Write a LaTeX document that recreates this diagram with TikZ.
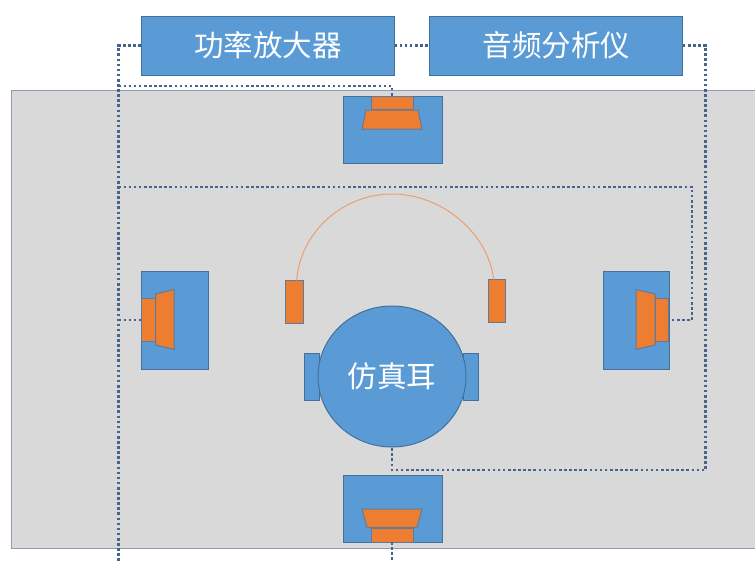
\documentclass[tikz,border=0pt]{standalone}
\usepackage{fontspec}
\usetikzlibrary{shapes.geometric}
\setmainfont{Noto Sans CJK SC}
\definecolor{bluef}{HTML}{5B9BD5}
\definecolor{blued}{HTML}{41719C}
\definecolor{orangef}{HTML}{ED7D31}
\definecolor{grayf}{HTML}{D9D9D9}
\definecolor{graye}{HTML}{8C9DB5}
\definecolor{wire}{HTML}{44648C}
\definecolor{arcc}{HTML}{E8A070}
\definecolor{orangee}{HTML}{5F7A9A}
\tikzset{
  bluebox/.style={draw=blued,fill=bluef,line width=1pt,inner sep=0pt,outer sep=0pt,rectangle,text=white},
  orangebox/.style={draw=orangee,fill=orangef,line width=1pt,inner sep=0pt,outer sep=0pt,rectangle},
  horn/.style={draw=orangee,fill=orangef,line width=1pt,line join=miter},
  wirel/.style={draw=wire,line width=2.8pt,dash pattern=on 2.6pt off 2.5pt},
  boxtext/.style={font=\fontsize{29.5}{33}\selectfont}
}
\begin{document}
\begin{tikzpicture}[x=1pt,y=-1pt]
\useasboundingbox (0,0) rectangle (755,562);
\fill[white] (0,0) rectangle (755,562);
\node[draw=graye,fill=grayf,line width=1pt,rectangle,inner sep=0pt,outer sep=0pt,minimum width=750pt,minimum height=458pt] (room) at (386,319) {};
\node[bluebox,boxtext,minimum width=253.5pt,minimum height=59pt] (amp) at (267.8,45.5) {功率放大器};
\node[bluebox,boxtext,minimum width=253pt,minimum height=59pt] (ana) at (556.3,45.5) {音频分析仪};
% speakers
\node[bluebox,minimum width=99pt,minimum height=67pt] (top) at (392.5,129.5) {};
\node[orangebox,minimum width=42pt,minimum height=13pt] (topr) at (392,103) {};
\draw[horn] (366,110) -- (418,110) -- (422,129) -- (362,129) -- cycle;
\node[bluebox,minimum width=67pt,minimum height=98pt] (left) at (174.5,320) {};
\node[orangebox,minimum width=14pt,minimum height=43pt] (leftr) at (148,319.5) {};
\draw[horn] (155.5,294) -- (174,289.5) -- (174,349.5) -- (155.5,345) -- cycle;
\node[bluebox,minimum width=66pt,minimum height=98pt] (right) at (636,320) {};
\node[orangebox,minimum width=13.5pt,minimum height=43pt] (rightr) at (662.2,319.5) {};
\draw[horn] (636,289.5) -- (655,294) -- (655,345) -- (636,349.5) -- cycle;
\node[bluebox,minimum width=99pt,minimum height=67pt] (bot) at (392.5,508.5) {};
\node[orangebox,minimum width=42pt,minimum height=14pt] (botr) at (392,535) {};
\draw[horn] (362,509) -- (422,509) -- (417,527.5) -- (367,527.5) -- cycle;
% head
\node[bluebox,minimum width=14.5pt,minimum height=47pt] (earl) at (312.2,376.5) {};
\node[bluebox,minimum width=14.5pt,minimum height=47pt] (earr) at (471.2,376.5) {};
\node[bluebox,boxtext,ellipse,minimum width=148pt,minimum height=141pt] (head) at (392,376.5) {仿真耳};
% headphones
\node[orangebox,minimum width=18pt,minimum height=43pt] (hpl) at (294,302) {};
\node[orangebox,minimum width=17pt,minimum height=43pt] (hpr) at (496.5,301) {};
\coordinate (arcl) at (296.7,280.5);
\coordinate (arcr) at (493.7,279.5);
\draw[arcc,line width=1pt] (arcl) .. controls (300,233) and (342,194) .. (392,194) .. controls (442,194) and (488,233) .. (arcr);
% wiring
\coordinate (c1) at (118.4,45.5);
\coordinate (c2) at (118.4,561);
\coordinate (c3) at (118.4,86);
\coordinate (c4) at (392,86);
\coordinate (c5) at (118.4,187);
\coordinate (c6) at (692,187);
\coordinate (c7) at (692,320);
\coordinate (c8) at (118.4,320);
\coordinate (c9) at (705.7,45.5);
\coordinate (c10) at (705.7,470);
\coordinate (c11) at (392,470);
\coordinate (c12) at (392,561);
\draw[wirel] (amp.west) -- (c1) -- (c2);
\draw[wirel] (c3) -- (c4) -- (top.north -| c4);
\draw[wirel] (c5) -- (c6) -- (c7) -- (right.east |- c7);
\draw[wirel] (c8) -- (left.west |- c8);
\draw[wirel] (amp.east) -- (ana.west);
\draw[wirel] (ana.east) -- (c9) -- (c10) -- (c11) -- (head.south -| c11);
\draw[wirel] (bot.south -| c12) -- (c12);
\end{tikzpicture}
\end{document}
